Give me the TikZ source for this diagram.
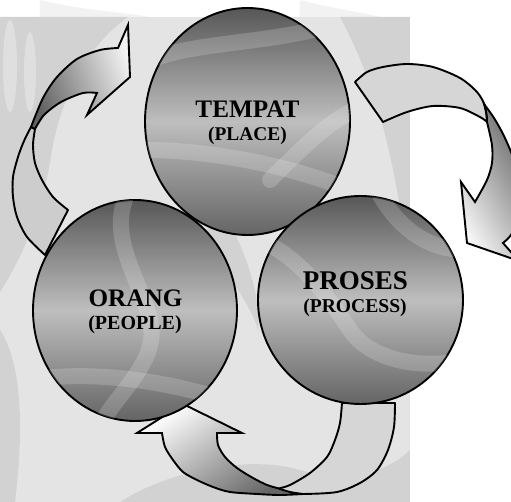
\documentclass[tikz,border=0pt]{standalone}
\usepackage{fontspec}
\setmainfont{Liberation Serif}
\usetikzlibrary{shapes.geometric}
\definecolor{bgA}{HTML}{E4E4E4}
\definecolor{bgB}{HTML}{D2D2D2}
\definecolor{cdark}{HTML}{575757}
\definecolor{clight}{HTML}{BEBEBE}
\definecolor{bandfill}{HTML}{CDCDCD}
\tikzset{
  ball/.style={ellipse, draw=black, line width=0.95pt, inner sep=0pt,
    top color=cdark, bottom color=cdark!92!white, middle color=clight},
  backband/.style={draw=black, line width=0.95pt, fill=bandfill, line join=round},
  frontband/.style={draw=black, line width=0.95pt, line join=miter},
  bigtxt/.style={font=\bfseries\fontsize{12.6}{14}\selectfont, text=black, anchor=base, inner sep=0pt},
  bigtxtb/.style={font=\bfseries\fontsize{13.5}{15}\selectfont, text=black, anchor=base, inner sep=0pt},
  smalltxt/.style={font=\bfseries\fontsize{9.8}{12}\selectfont, text=black, anchor=base, inner sep=0pt},
  wm/.style={line width=8pt, white, opacity=0.18, line cap=round}
}
\begin{document}
\begin{tikzpicture}[x=0.5pt,y=-0.5pt]
\useasboundingbox (0,0) rectangle (511,502);
\clip (0,0) rectangle (511,502);
% ---------- background with watermark-like patches
\fill[white] (0,0) rectangle (511,502);
\fill[black!5] (40,0) .. controls (80,10) and (120,12) .. (150,17) -- (40,17) -- cycle;
\fill[black!5] (300,0) .. controls (330,8) and (360,12) .. (380,17) -- (300,17) -- cycle;
\fill[bgA] (0,17) rectangle (410,502);
\fill[bgB] (0,17) -- (128,17) .. controls (88,45) and (62,95) .. (52,150)
  .. controls (44,205) and (24,255) .. (0,292) -- cycle;
\fill[bgA!70!bgB] (10,66) ellipse (3.5pt and 23pt);
\fill[bgA!70!bgB] (30,72) ellipse (3pt and 20pt);
\fill[bgB] (340,17) -- (410,17) -- (410,270) .. controls (398,200) and (390,110) .. (340,17) -- cycle;
\fill[bgB] (0,330) .. controls (20,360) and (25,420) .. (15,502) -- (0,502) -- cycle;
\fill[bgB] (120,502) .. controls (170,470) and (250,455) .. (300,470)
  .. controls (350,485) and (390,470) .. (410,450) -- (410,502) -- cycle;
\fill[bgB] (200,230) .. controls (215,260) and (250,300) .. (258,330)
  .. controls (262,300) and (245,250) .. (230,225) -- cycle;
% ---------- left arrow (ORANG -> TEMPAT)
\draw[backband] (31,127) -- plot[smooth] coordinates {(31,127) (24,141) (18,157) (13,177) (13,197) (17,217) (27,237) (45,255)}
  -- (68,210)
  -- plot[smooth] coordinates {(68,210) (53,197) (42,180) (35,163) (33,145) (35,129)} -- cycle;
\draw[frontband, top color=white!95!black, bottom color=black!62, shading angle=-70]
  (31,127) -- plot[smooth] coordinates {(31,127) (43,98) (57,77) (77,59) (100,50) (118,48)}
  -- (128,25) -- (130,77) -- (87,115) -- (97,93)
  -- plot[smooth] coordinates {(97,93) (83,93) (61,102) (44,115) (35,129)} -- cycle;
% ---------- right arrow (TEMPAT -> PROSES)
\draw[backband, fill=black!16] (355,82) -- plot[smooth] coordinates {(355,82) (367,72) (383,67) (407,64) (433,67) (460,78) (477,92) (485,106) (487,122)}
  -- plot[smooth] coordinates {(487,122) (480,117) (460,108) (433,106) (407,112) (383,122)} -- cycle;
\draw[frontband, top color=black!58, bottom color=white!97!black, shading angle=-60]
  (484,104) -- plot[smooth] coordinates {(484,104) (494,118) (504,136) (514,160) (521,190) (519,218) (511,235) (503,243)}
  -- (519,261) -- (467,243) -- (461,182) -- (475,202)
  -- plot[smooth] coordinates {(475,202) (487,180) (492,163) (492,145) (487,122)}
  .. controls (487,115) .. (484,104) -- cycle;
% ---------- bottom arrow (PROSES -> ORANG)
\draw[backband, fill=black!16] (342,403) -- (395,403)
  -- plot[smooth] coordinates {(395,403) (394,427) (388,450) (377,470) (360,483) (337,492) (303,494) (280,493) (268,492)}
  -- plot[smooth] coordinates {(268,492) (277,489) (290,485) (310,473) (327,457) (335,440) (340,423) (342,403)} -- cycle;
\draw[frontband, top color=white, bottom color=black!60, shading angle=35]
  (303,494) -- plot[smooth] coordinates {(303,494) (280,495) (257,494) (230,492) (213,487) (197,480) (183,472) (173,460) (165,447) (162,433)}
  -- (137,433) -- (183,404) -- (242,433) -- (217,433)
  -- plot[smooth] coordinates {(217,433) (218,445) (225,457) (237,468) (253,478) (267,485) (277,488) (290,492) (303,494)} -- cycle;
% ---------- the three circles
\node[ball, minimum width=102.5pt, minimum height=113.5pt] (tempat) at (247.5,121.5) {};
\node[ball, minimum width=102pt, minimum height=110.5pt] (orang) at (135,310.5) {};
\node[ball, minimum width=102.5pt, minimum height=104pt] (proses) at (360.5,300) {};
% ---------- watermark bands over the circles
\begin{scope}
  \clip (247.5,121.5) ellipse (51.25pt and 56.75pt);
  \draw[wm] (150,60) .. controls (200,40) and (280,45) .. (355,18);
  \draw[wm] (145,150) .. controls (210,150) and (290,165) .. (355,192);
  \draw[wm] (270,180) .. controls (300,150) and (330,120) .. (355,110);
\end{scope}
\begin{scope}
  \clip (135,310.5) ellipse (51pt and 55.25pt);
  \draw[wm] (125,200) .. controls (110,240) and (140,280) .. (150,320)
    .. controls (160,360) and (120,390) .. (100,425);
  \draw[wm] (30,380) .. controls (90,370) and (170,380) .. (240,405);
\end{scope}
\begin{scope}
  \clip (360.5,300) ellipse (51.25pt and 52pt);
  \draw[wm] (258,240) .. controls (300,255) and (330,300) .. (350,330)
    .. controls (370,360) and (420,370) .. (465,360);
  \draw[wm] (380,195) .. controls (400,230) and (430,250) .. (465,250);
\end{scope}
% ---------- labels
\node[bigtxt] (t1) at (247.5,118) {TEMPAT};
\node[smalltxt, font=\bfseries\fontsize{9.7}{12}\selectfont] (t2) at (247.5,141) {(PLACE)};
\node[bigtxt] (o1) at (135.5,307) {ORANG};
\node[smalltxt, font=\bfseries\fontsize{10}{12}\selectfont] (o2) at (135,330) {(PEOPLE)};
\node[bigtxtb] (p1) at (355.5,290) {PROSES};
\node[smalltxt] (p2) at (355,313) {(PROCESS)};
\end{tikzpicture}
\end{document}
